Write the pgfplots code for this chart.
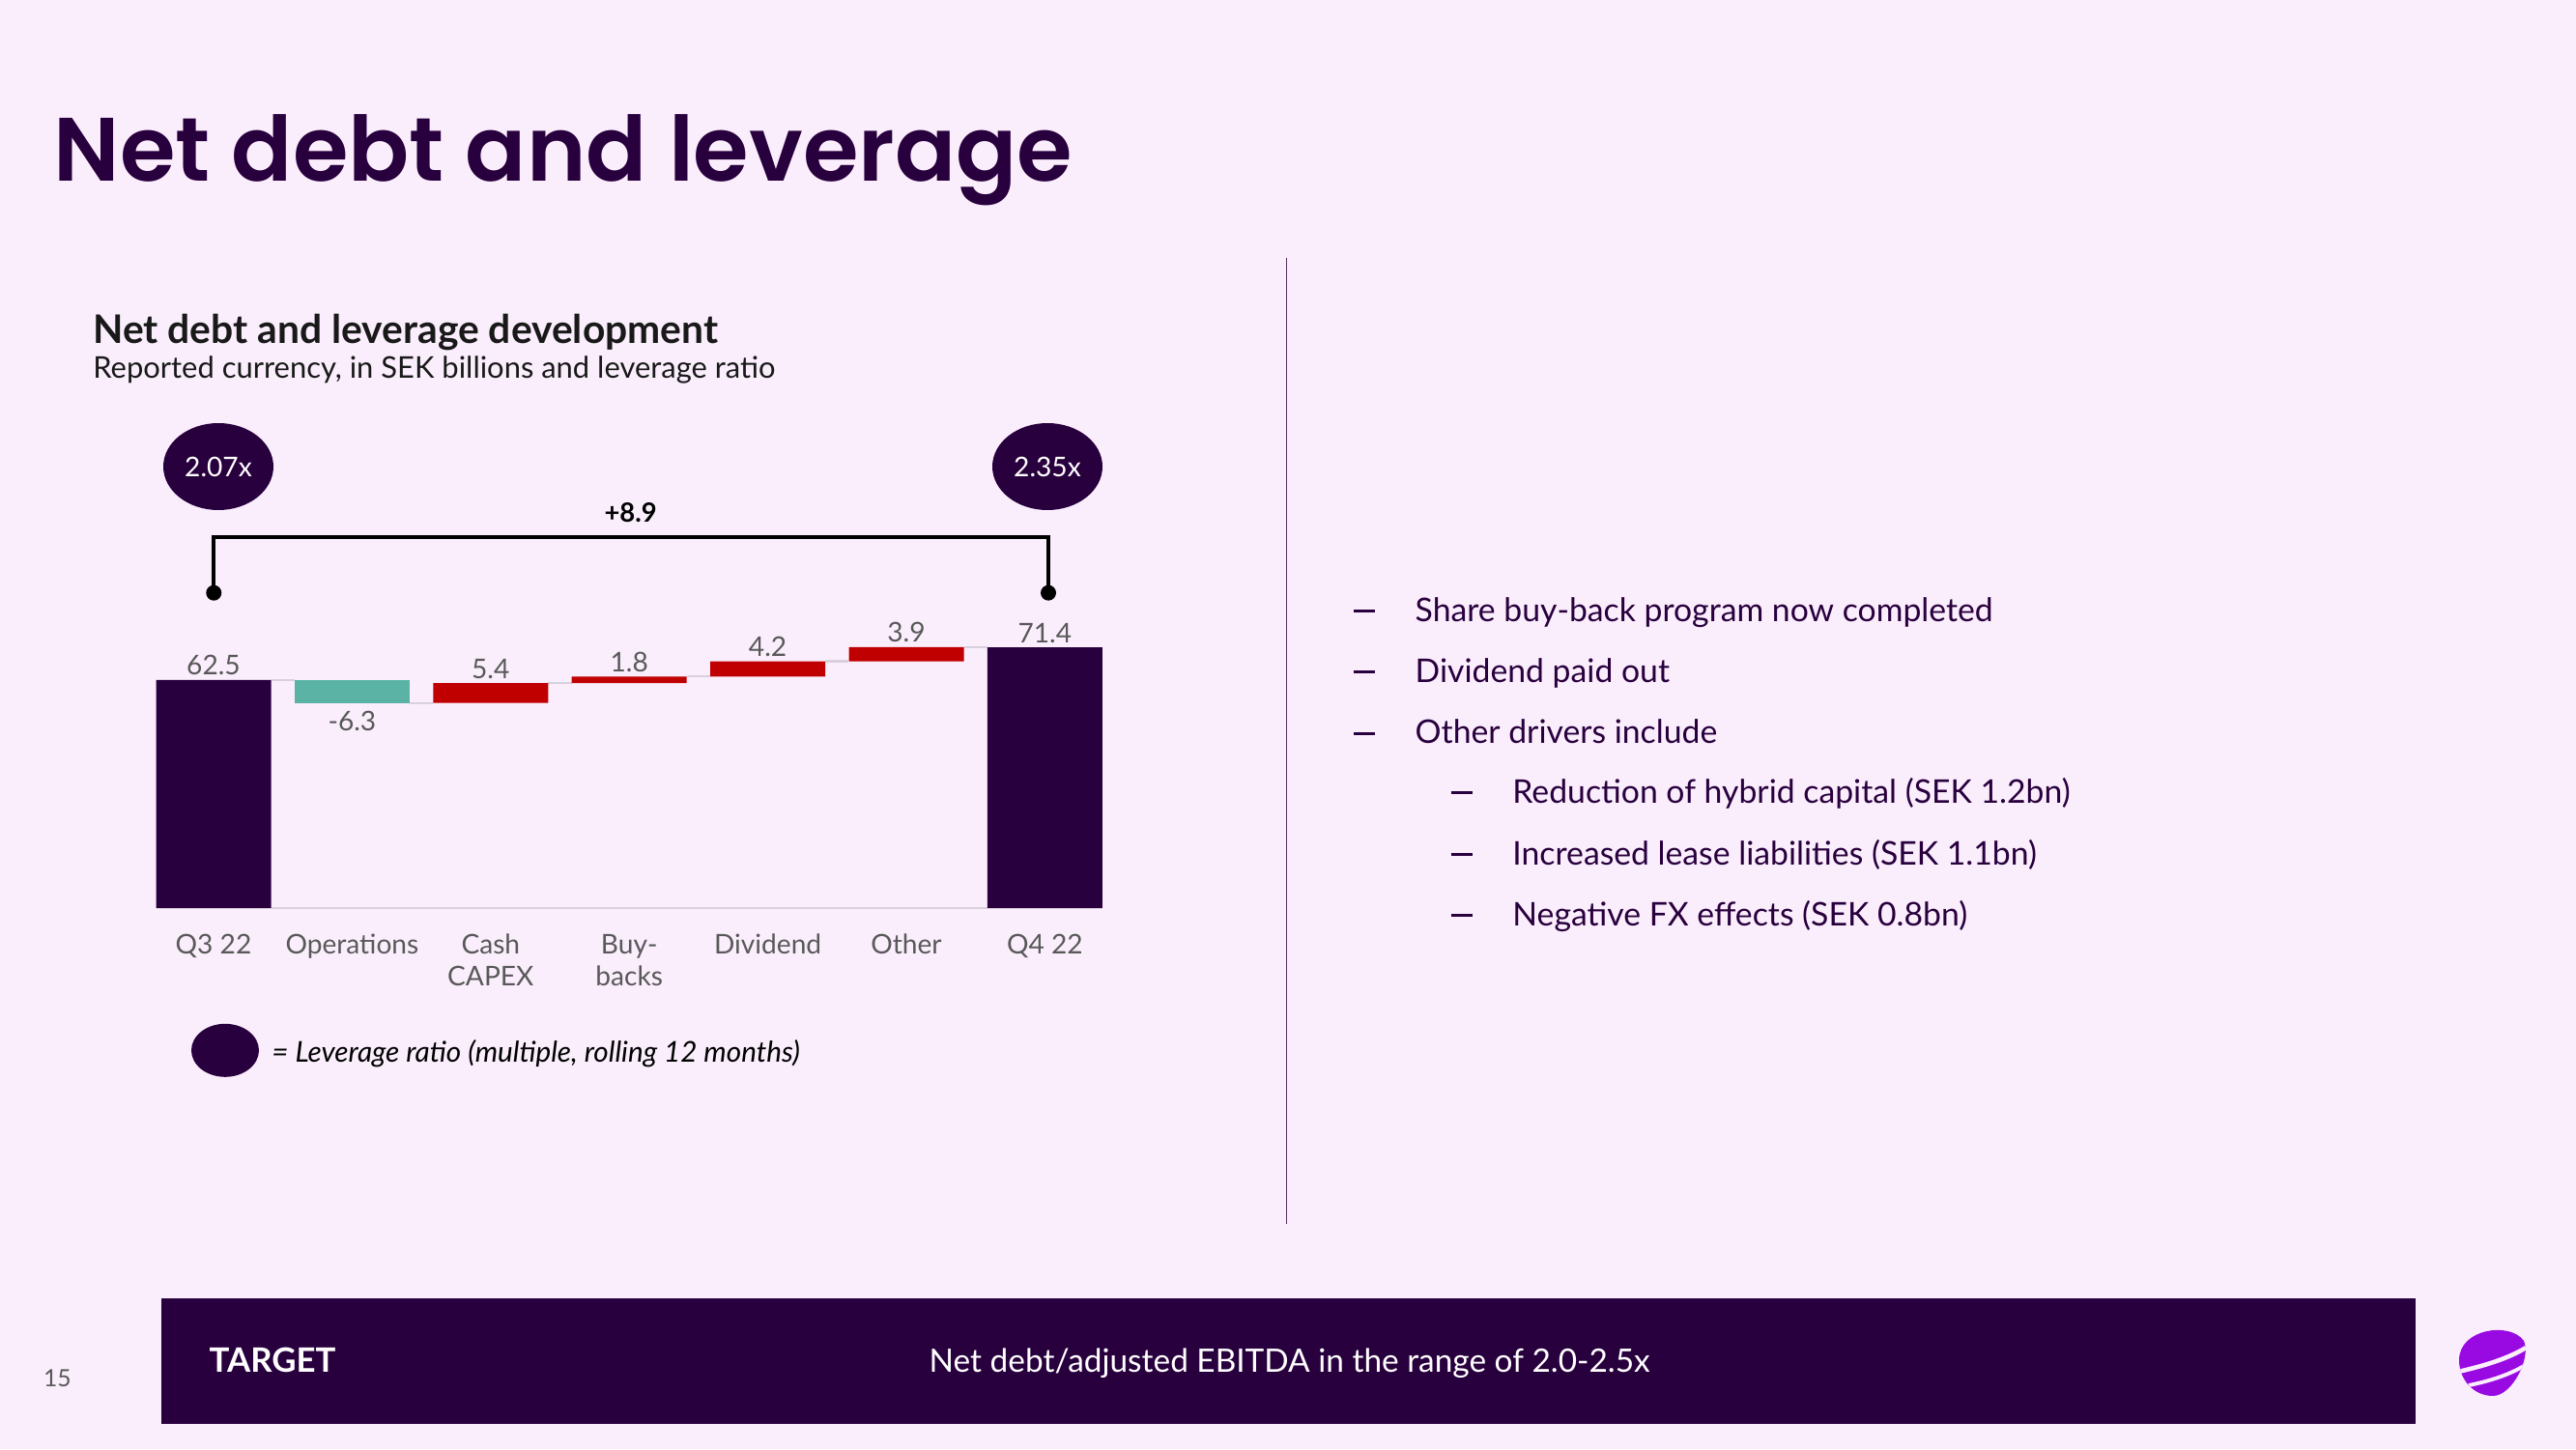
\documentclass[border=0pt]{standalone}
\usepackage{fontspec}
\setmainfont{Lato}
\newfontfamily\titlefont{Poppins SemiBold}
\usepackage{pgfplots}
\pgfplotsset{compat=1.18}
\definecolor{bg}{HTML}{FAEEFC}
\definecolor{deep}{HTML}{29003E}
\definecolor{tred}{HTML}{C00000}
\definecolor{tteal}{HTML}{5BB3A6}
\definecolor{tgray}{HTML}{595959}
\definecolor{conn}{HTML}{D8D0DC}
\definecolor{telia}{HTML}{990AE3}
\newcommand\tl{\rule{0pt}{6.5pt}}
\newcommand\dash{\rule[2.7pt]{6.3pt}{0.85pt}}
\tikzset{vlab/.style={anchor=base, text=tgray, font=\fontsize{8}{9}\selectfont, inner sep=0},
  bul/.style={anchor=base west, inner sep=0, text=deep, font=\fontsize{9.6}{11}\selectfont},
  cn/.style={conn, line width=0.6pt}}
\begin{document}
\begin{tikzpicture}
\fill[bg] (0,0) rectangle (26.66,15);
% titles
\node[anchor=base west, inner sep=0, text=deep, font=\fontsize{26.5}{30}\titlefont] at (0.55,13.127) {Net debt and leverage};
\node[anchor=base west, inner sep=0, text=black!90, font=\fontsize{11.6}{13}\selectfont\bfseries] at (0.956,11.44) {Net debt and leverage development};
\node[anchor=base west, inner sep=0, text=black!90, font=\fontsize{8.8}{10}\selectfont] at (0.956,11.083) {Reported currency, in SEK billions and leverage ratio};
% chart
\begin{axis}[
  at={(1.615cm,5.60cm)}, anchor=south west,
  scale only axis, width=9.794cm, height=3.779cm,
  xmin=-0.415, xmax=6.415, ymin=0, ymax=100,
  ybar stacked, bar width=1.19cm,
  axis y line=none, axis x line=bottom,
  x axis line style={-, draw=conn, line width=0.8pt},
  xtick={0,1,2,3,4,5,6},
  xticklabels={\tl Q3 22, \tl Operations, {\tl Cash\\CAPEX}, {\tl Buy-\\backs}, \tl Dividend, \tl Other, \tl Q4 22},
  xticklabel style={align=center, anchor=north, inner sep=0pt, yshift=-6.9pt, text=tgray, font=\fontsize{8}{9.2}\selectfont},
  major tick length=0pt,
  clip=false,
]
\addplot[draw=none, fill=none, forget plot] coordinates {(0,0) (1,56.2) (2,56.2) (3,61.6) (4,63.4) (5,67.6) (6,0)};
\addplot[draw=none, fill=deep] coordinates {(0,62.5) (1,0) (2,0) (3,0) (4,0) (5,0) (6,71.4)};
\addplot[draw=none, fill=tteal] coordinates {(0,0) (1,6.3) (2,0) (3,0) (4,0) (5,0) (6,0)};
\addplot[draw=none, fill=tred] coordinates {(0,0) (1,0) (2,5.4) (3,1.8) (4,4.2) (5,3.9) (6,0)};
% connectors
\draw[cn] (axis cs:0.415,62.5) -- (axis cs:0.585,62.5);
\draw[cn] (axis cs:1.415,56.2) -- (axis cs:1.585,56.2);
\draw[cn] (axis cs:2.415,61.6) -- (axis cs:2.585,61.6);
\draw[cn] (axis cs:3.415,63.4) -- (axis cs:3.585,63.4);
\draw[cn] (axis cs:4.415,67.6) -- (axis cs:4.585,67.6);
\draw[cn] (axis cs:5.415,71.5) -- (axis cs:5.585,71.5);
% value labels
\node[vlab, yshift=1.4pt] at (axis cs:0,62.5) {62.5};
\node[vlab, yshift=-8.2pt] at (axis cs:1,56.2) {-6.3};
\node[vlab, yshift=1.4pt] at (axis cs:2,61.6) {5.4};
\node[vlab, yshift=1.4pt] at (axis cs:3,63.4) {1.8};
\node[vlab, yshift=1.4pt] at (axis cs:4,67.6) {4.2};
\node[vlab, yshift=1.4pt] at (axis cs:5,71.5) {3.9};
\node[vlab, yshift=1.4pt] at (axis cs:6,71.4) {71.4};
\end{axis}
% bracket
\draw[black, line width=1.1pt] (2.213,8.863) -- (2.213,9.444) -- (10.85,9.444) -- (10.85,8.863);
\fill[black] (2.213,8.863) circle (0.08);
\fill[black] (10.85,8.863) circle (0.08);
\node[font=\fontsize{7.8}{9}\selectfont\bfseries, text=black] at (6.527,9.693) {+8.9};
% leverage ellipses
\fill[deep] (2.26,10.17) ellipse [x radius=0.57, y radius=0.45];
\fill[deep] (10.84,10.17) ellipse [x radius=0.57, y radius=0.45];
\node[text=white, font=\fontsize{8}{9}\selectfont] at (2.26,10.17) {2.07x};
\node[text=white, font=\fontsize{8}{9}\selectfont] at (10.84,10.17) {2.35x};
% legend
\fill[deep] (2.33,4.127) ellipse [x radius=0.35, y radius=0.275];
\node[anchor=base west, inner sep=0, font=\fontsize{8.45}{9}\selectfont\itshape, text=black] at (2.807,4.01) {= Leverage ratio (multiple, rolling 12 months)};
% separator
\draw[deep!80, line width=0.45pt] (13.314,12.33) -- (13.314,2.33);
% bullets
\node[bul] at (14.00,8.567) {\dash}; \node[bul] at (14.64,8.567) {Share buy-back program now completed};
\node[bul] at (14.00,7.933) {\dash}; \node[bul] at (14.64,7.933) {Dividend paid out};
\node[bul] at (14.00,7.30) {\dash}; \node[bul] at (14.64,7.30) {Other drivers include};
\node[bul] at (15.01,6.683) {\dash}; \node[bul] at (15.647,6.683) {Reduction of hybrid capital (SEK 1.2bn)};
\node[bul] at (15.01,6.05) {\dash}; \node[bul] at (15.647,6.05) {Increased lease liabilities (SEK 1.1bn)};
\node[bul] at (15.01,5.417) {\dash}; \node[bul] at (15.647,5.417) {Negative FX effects (SEK 0.8bn)};
% banner
\fill[deep] (1.667,0.26) rectangle (25.0,1.56);
\node[anchor=base west, inner sep=0, text=white, font=\fontsize{9.9}{11}\selectfont\bfseries] at (2.16,0.80) {TARGET};
\node[anchor=base west, inner sep=0, text=white, font=\fontsize{9.5}{11}\selectfont] at (9.61,0.80) {Net debt/adjusted EBITDA in the range of 2.0-2.5x};
\node[text=tgray, font=\fontsize{7}{8}\selectfont] at (0.595,0.733) {15};
% logo
\begin{scope}
\clip (25.45,0.92) .. controls (25.45,1.25) and (25.98,1.32) .. (26.12,1.12) .. controls (26.20,0.95) and (26.00,0.55) .. (25.80,0.55) .. controls (25.60,0.55) and (25.45,0.72) .. cycle;
\fill[telia] (25.4,0.5) rectangle (26.2,1.4);
\draw[bg, line width=1.3pt] (25.44,0.80) .. controls (25.70,0.86) and (25.95,0.93) .. (26.16,1.06);
\draw[bg, line width=1.1pt] (25.55,0.66) .. controls (25.75,0.70) and (25.95,0.76) .. (26.12,0.86);
\end{scope}
\end{tikzpicture}
\end{document}
